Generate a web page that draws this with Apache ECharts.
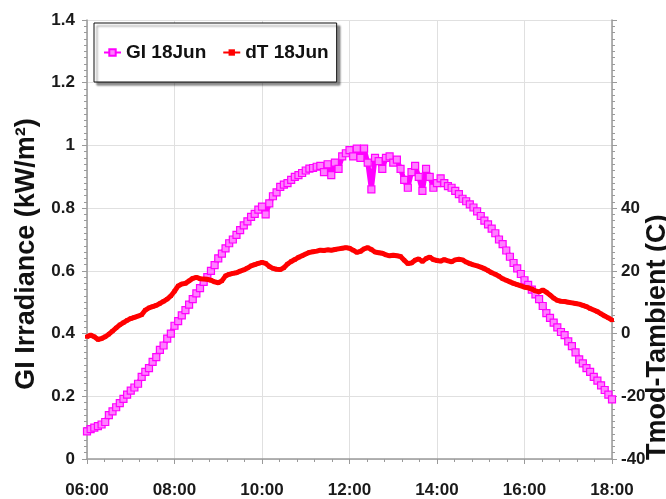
<!DOCTYPE html>
<html>
<head>
<meta charset="utf-8">
<script src="https://cdn.jsdelivr.net/npm/echarts@6/dist/echarts.min.js"></script>
<style>
  html, body { margin: 0; padding: 0; background: #fff; }
  #chart { width: 666px; height: 499px; }
</style>
</head>
<body>
<div id="chart"></div>
<script>
// Sampling times (every 5 minutes, 06:00 to 18:00)
const times = [
  '06:00','06:05','06:10','06:15','06:20','06:25','06:30','06:35','06:40','06:45','06:50','06:55',
  '07:00','07:05','07:10','07:15','07:20','07:25','07:30','07:35','07:40','07:45','07:50','07:55',
  '08:00','08:05','08:10','08:15','08:20','08:25','08:30','08:35','08:40','08:45','08:50','08:55',
  '09:00','09:05','09:10','09:15','09:20','09:25','09:30','09:35','09:40','09:45','09:50','09:55',
  '10:00','10:05','10:10','10:15','10:20','10:25','10:30','10:35','10:40','10:45','10:50','10:55',
  '11:00','11:05','11:10','11:15','11:20','11:25','11:30','11:35','11:40','11:45','11:50','11:55',
  '12:00','12:05','12:10','12:15','12:20','12:25','12:30','12:35','12:40','12:45','12:50','12:55',
  '13:00','13:05','13:10','13:15','13:20','13:25','13:30','13:35','13:40','13:45','13:50','13:55',
  '14:00','14:05','14:10','14:15','14:20','14:25','14:30','14:35','14:40','14:45','14:50','14:55',
  '15:00','15:05','15:10','15:15','15:20','15:25','15:30','15:35','15:40','15:45','15:50','15:55',
  '16:00','16:05','16:10','16:15','16:20','16:25','16:30','16:35','16:40','16:45','16:50','16:55',
  '17:00','17:05','17:10','17:15','17:20','17:25','17:30','17:35','17:40','17:45','17:50','17:55',
  '18:00'
];

// Global irradiance, kW/m2
const giIrradiance = [
  0.088,0.095,0.100,0.105,0.110,0.118,0.140,0.152,0.165,0.178,0.192,0.205,
  0.218,0.228,0.240,0.262,0.278,0.290,0.310,0.325,0.348,0.362,0.384,0.400,
  0.425,0.440,0.458,0.475,0.492,0.510,0.528,0.545,0.565,0.580,0.600,0.618,
  0.640,0.655,0.672,0.688,0.700,0.715,0.730,0.745,0.758,0.772,0.782,0.795,
  0.805,0.780,0.815,0.838,0.850,0.868,0.875,0.880,0.890,0.900,0.905,0.912,
  0.920,0.926,0.928,0.932,0.935,0.915,0.940,0.905,0.945,0.925,0.965,0.975,
  0.985,0.965,0.990,0.960,0.990,0.945,0.860,0.960,0.950,0.925,0.960,0.965,
  0.945,0.955,0.925,0.890,0.865,0.915,0.935,0.900,0.855,0.925,0.900,0.865,
  0.880,0.895,0.880,0.870,0.865,0.855,0.845,0.830,0.822,0.812,0.802,0.790,
  0.775,0.760,0.748,0.735,0.720,0.700,0.685,0.665,0.645,0.625,0.608,0.590,
  0.570,0.555,0.540,0.525,0.510,0.488,0.465,0.450,0.435,0.420,0.405,0.395,
  0.375,0.360,0.340,0.318,0.305,0.290,0.278,0.262,0.250,0.235,0.220,0.205,
  0.190
];

// Module minus ambient temperature, C
const deltaT = [
  -1.0,-0.5,-1.0,-1.9,-1.6,-1.0,-0.2,0.8,1.8,2.8,3.5,4.2,
  4.8,5.2,5.6,6.0,7.5,8.2,8.6,9.0,9.6,10.3,11.0,12.0,
  13.5,15.2,15.8,16.0,16.8,17.6,17.9,17.5,17.4,17.3,17.0,16.5,
  16.2,16.8,18.4,18.9,19.2,19.4,19.9,20.3,20.9,21.6,22.0,22.4,
  22.7,22.4,21.4,20.8,20.5,20.4,21.0,22.2,23.0,23.6,24.3,24.8,
  25.4,25.9,26.1,26.3,26.6,26.5,26.7,26.6,26.8,27.0,27.2,27.4,
  27.2,26.6,25.9,26.2,27.0,27.4,26.8,26.0,25.8,25.6,25.1,24.8,
  25.0,24.8,24.6,23.4,22.3,22.5,23.4,23.8,23.0,23.9,24.4,23.6,
  23.3,23.1,23.6,23.2,22.9,23.5,23.7,23.5,22.8,22.3,21.9,21.6,
  21.2,20.7,20.1,19.4,18.9,18.3,17.5,17.0,16.5,16.0,15.6,15.2,
  14.8,14.6,14.2,13.6,13.3,13.9,13.2,12.3,11.3,10.6,10.3,10.2,
  10.0,9.8,9.6,9.4,9.0,8.6,8.0,7.5,7.0,6.3,5.6,5.0,
  4.3
];

const toMinutes = s => { const p = s.split(':'); return +p[0] * 60 + +p[1]; };
const fmtTime = m => String(Math.floor(m / 60)).padStart(2, '0') + ':' + String(m % 60).padStart(2, '0');

const giData = times.map((t, i) => [toMinutes(t), giIrradiance[i]]);
const dtData = times.map((t, i) => [toMinutes(t), deltaT[i]]);

const FONT = '"Liberation Sans", Arial, sans-serif';
const labelStyle = { fontFamily: FONT, fontWeight: 'bold', fontSize: 17, color: '#1a1a1a' };
const titleStyle = { fontFamily: FONT, fontWeight: 'bold', fontSize: 27, fill: '#111' };
const axisGrey = '#9a9a9a';

const chart = echarts.init(document.getElementById('chart'), null, { renderer: 'canvas' });
chart.setOption({
  animation: false,
  backgroundColor: '#fff',
  grid: { left: 87, top: 20, width: 525, height: 439 },
  legend: {
    left: 94, top: 23,
    padding: [20, 8, 20, 9],
    itemGap: 16, itemWidth: 17, itemHeight: 8,
    backgroundColor: '#fff',
    borderColor: '#111', borderWidth: 1, borderRadius: 0,
    shadowColor: 'rgba(0,0,0,0.45)', shadowBlur: 2, shadowOffsetX: 3, shadowOffsetY: 3,
    textStyle: { fontFamily: FONT, fontWeight: 'bold', fontSize: 19, color: '#111' },
    data: ['GI 18Jun', 'dT 18Jun']
  },
  // Axis titles, rotated to read bottom to top
  graphic: [
    {
      type: 'text', x: 27, y: 254, rotation: Math.PI / 2,
      style: Object.assign({ text: 'GI Irradiance (kW/m²)', align: 'center', verticalAlign: 'middle' }, titleStyle)
    },
    {
      type: 'text', x: 658, y: 460, rotation: Math.PI / 2,
      style: Object.assign({ text: 'Tmod-Tambient (C)', align: 'left', verticalAlign: 'middle' }, titleStyle)
    }
  ],
  xAxis: {
    type: 'value', min: 360, max: 1080, interval: 120,
    axisLine: { show: true, lineStyle: { color: axisGrey, width: 1.5 } },
    axisTick: { show: true, length: 5, lineStyle: { color: axisGrey } },
    minorTick: { show: true, splitNumber: 5, length: 3, lineStyle: { color: axisGrey } },
    splitLine: { show: true, lineStyle: { color: '#e0e0e0', width: 1 } },
    axisLabel: Object.assign({ formatter: v => fmtTime(v), margin: 23 }, labelStyle)
  },
  yAxis: [
    {
      type: 'value', min: 0, max: 1.4, interval: 0.2,
      axisLine: { show: true, lineStyle: { color: axisGrey, width: 1.5 } },
      axisTick: { show: true, length: 5, lineStyle: { color: axisGrey } },
      minorTick: { show: true, splitNumber: 10, length: 3, lineStyle: { color: axisGrey } },
      splitLine: { show: true, lineStyle: { color: '#e0e0e0', width: 1 } },
      axisLabel: Object.assign({ formatter: v => String(+v.toFixed(1)), margin: 12 }, labelStyle)
    },
    {
      type: 'value', min: -40, max: 100, interval: 20, position: 'right',
      axisLine: { show: true, lineStyle: { color: axisGrey, width: 1.5 } },
      axisTick: { show: true, length: 5, lineStyle: { color: axisGrey } },
      minorTick: { show: true, splitNumber: 10, length: 3, lineStyle: { color: axisGrey } },
      splitLine: { show: false },
      axisLabel: Object.assign({ formatter: v => (v <= 40 ? String(v) : ''), margin: 9 }, labelStyle)
    }
  ],
  series: [
    {
      name: 'GI 18Jun', type: 'line', yAxisIndex: 0, data: giData,
      symbol: 'rect', symbolSize: 7, showAllSymbol: true,
      lineStyle: { color: '#ff00ff', width: 5 },
      itemStyle: { color: '#ff80ff', borderColor: '#ff00ff', borderWidth: 1.2 },
      z: 3
    },
    {
      name: 'dT 18Jun', type: 'line', yAxisIndex: 1, data: dtData,
      symbol: 'rect', symbolSize: 4, showAllSymbol: true,
      lineStyle: { color: '#ff0000', width: 5 },
      itemStyle: { color: '#ff0000', borderColor: '#ff0000', borderWidth: 0 },
      z: 4
    }
  ]
});
</script>
</body>
</html>
